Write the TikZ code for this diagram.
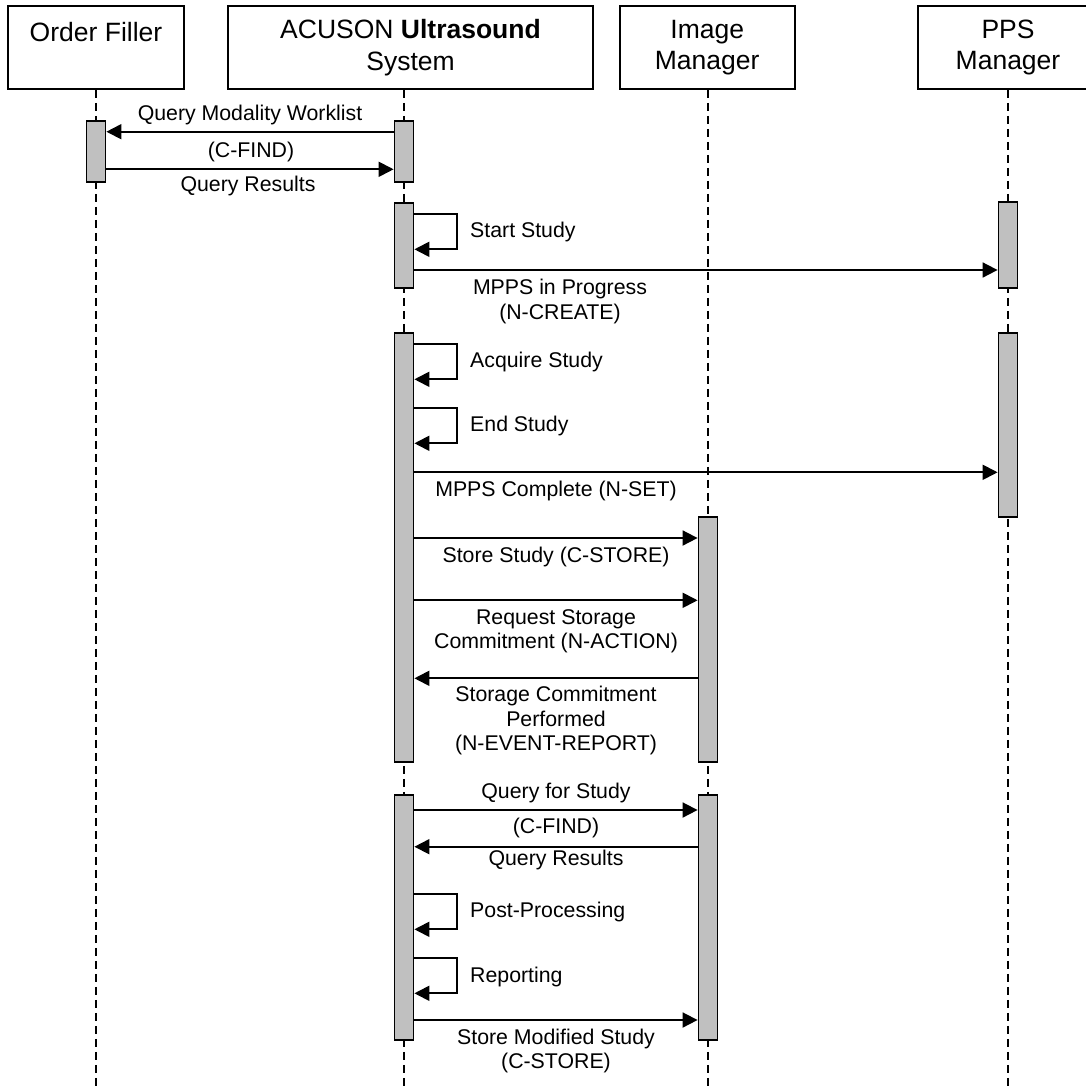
\documentclass[tikz,border=0pt]{standalone}
\usepackage{fontspec}
\setmainfont{Liberation Sans}
\usetikzlibrary{arrows.meta}
\begin{document}
\begin{tikzpicture}[x=1pt,y=-1pt,
  hdr/.style={draw=black,line width=1.8pt,fill=white,inner sep=0pt,align=center,
    font=\fontsize{26.5}{31.7}\selectfont,minimum height=83pt},
  life/.style={draw=black,line width=1.5pt,dash pattern=on 8pt off 5pt},
  act/.style={draw=black,line width=1.8pt,fill={rgb,255:red,192;green,192;blue,192},
    minimum width=19pt,inner sep=0pt},
  msg/.style={draw=black,line width=1.8pt,-{Triangle[length=15pt,width=15pt]}},
  lbl/.style={font=\fontsize{21.3}{24.4}\selectfont,align=center,inner sep=0pt},
  self/.style={lbl,anchor=west}]
\clip (0,0) rectangle (1086,1085);
\fill[white] (0,0) rectangle (1086,1085);

% header boxes
\node[hdr,minimum width=176pt] (of) at (96,47.5) {Order Filler\\\mbox{}};
\node[hdr,minimum width=365pt] (ac) at (410.5,47.5) {ACUSON \textbf{Ultrasound}\\System};
\node[hdr,minimum width=175pt] (im) at (707.2,47.5) {Image\\Manager};
\node[hdr,minimum width=180pt] (pps) at (1008,47.5) {PPS\\Manager};

% lifeline ends
\coordinate (ofe) at (96,1090);
\coordinate (ace) at (404,1090);
\coordinate (ime) at (708,1090);
\coordinate (ppse) at (1008,1090);
\draw[life] (of.south -| ofe) -- (ofe);
\draw[life] (ac.south -| ace) -- (ace);
\draw[life] (im.south -| ime) -- (ime);
\draw[life] (pps.south -| ppse) -- (ppse);

% activations
\node[act,minimum height=61.3pt] (of1) at (96,151.35) {};
\node[act,minimum height=61.3pt] (ac1) at (404,151.35) {};
\node[act,minimum height=85.6pt] (ac2) at (404,245.5) {};
\node[act,minimum height=85.4pt] (pps1) at (1008,245) {};
\node[act,minimum height=429.6pt] (ac3) at (404,547.5) {};
\node[act,minimum height=184pt] (pps2) at (1008,424.7) {};
\node[act,minimum height=245.6pt] (im1) at (708,639.5) {};
\node[act,minimum height=245pt] (ac4) at (404,917.5) {};
\node[act,minimum height=245pt] (im2) at (708,917.5) {};

% Query Modality Worklist
\draw[msg] (ac1.west |- 0,131.7) -- (of1.east |- 0,131.7);
\node[lbl] (t1) at (250,115) {Query Modality Worklist};
\node[lbl] (t2) at (251,151.7) {(C-FIND)};
\draw[msg] (of1.east |- 0,169.3) -- (ac1.west |- 0,169.3);
\node[lbl] (t3) at (248,185.7) {Query Results};

% Start Study
\draw[msg] (ac2.east |- 0,214) -| (457,231.5) |- (ac2.east |- 0,249.3);
\node[self] (t4) at (470,231.7) {Start Study};
\draw[msg] (ac2.east |- 0,270) -- (pps1.west |- 0,270);
\node[lbl] (t5) at (560,301.5) {MPPS in Progress\\(N-CREATE)};

% Acquire / End Study
\draw[msg] (ac3.east |- 0,344) -| (457,361.5) |- (ac3.east |- 0,379.3);
\node[self] (t6) at (470,361.7) {Acquire Study};
\draw[msg] (ac3.east |- 0,408.3) -| (457,426) |- (ac3.east |- 0,443.3);
\node[self] (t7) at (470,426) {End Study};

\draw[msg] (ac3.east |- 0,472.3) -- (pps2.west |- 0,472.3);
\node[lbl] (t8) at (556,490.7) {MPPS Complete (N-SET)};

\draw[msg] (ac3.east |- 0,538) -- (im1.west |- 0,538);
\node[lbl] (t9) at (556,556.7) {Store Study (C-STORE)};

\draw[msg] (ac3.east |- 0,600.3) -- (im1.west |- 0,600.3);
\node[lbl] (t10) at (556,631.2) {Request Storage\\Commitment (N-ACTION)};

\draw[msg] (im1.west |- 0,678.3) -- (ac3.east |- 0,678.3);
\node[lbl] (t11) at (556,720.8) {Storage Commitment\\Performed\\(N-EVENT-REPORT)};

% Query for Study
\draw[msg] (ac4.east |- 0,810) -- (im2.west |- 0,810);
\node[lbl] (t12) at (556,793.3) {Query for Study};
\node[lbl] (t13) at (556,828.3) {(C-FIND)};
\draw[msg] (im2.west |- 0,846.7) -- (ac4.east |- 0,846.7);
\node[lbl] (t14) at (556,860) {Query Results};

% Post-Processing / Reporting
\draw[msg] (ac4.east |- 0,894.3) -| (457,911.5) |- (ac4.east |- 0,929.3);
\node[self] (t15) at (470,911.7) {Post-Processing};
\draw[msg] (ac4.east |- 0,958.3) -| (457,976) |- (ac4.east |- 0,993.3);
\node[self] (t16) at (470,976.7) {Reporting};

\draw[msg] (ac4.east |- 0,1020) -- (im2.west |- 0,1020);
\node[lbl] (t17) at (556,1050.8) {Store Modified Study\\(C-STORE)};
\end{tikzpicture}
\end{document}
